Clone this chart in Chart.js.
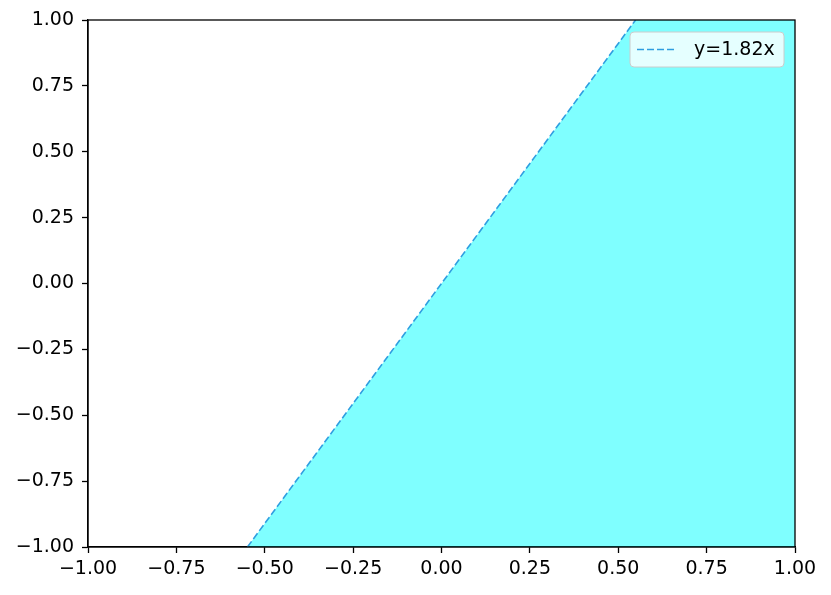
<!DOCTYPE html>
<html>
<head>
<meta charset="utf-8">
<script src="https://cdn.jsdelivr.net/npm/chart.js@4/dist/chart.umd.min.js"></script>
<style>
  html, body { margin: 0; padding: 0; background: #fff; }
  #wrap { width: 831px; height: 595px; }
</style>
</head>
<body>
<div id="wrap"><canvas id="grafico" width="831" height="595"></canvas></div>
<script>
// line y = 1.82x, endpoints where it meets the frame
const lineX = [-0.549, 0.549];
const lineY = [-1, 1];
// shaded region right of the line (filled down to the bottom)
const fillX = [-0.549, 0.549, 1];
const fillY = [-1, 1, 1];
const xTicks = [-1, -0.75, -0.5, -0.25, 0, 0.25, 0.5, 0.75, 1];
const yTicks = [-1, -0.75, -0.5, -0.25, 0, 0.25, 0.5, 0.75, 1];
const lineLabel = "y=1.82x";

const FONT = "'DejaVu Sans', sans-serif";
const FSIZE = 19;
const fmt = v => (v < 0 ? "\u2212" : "") + Math.abs(v).toFixed(2);

const toPts = (xs, ys) => xs.map((x, i) => ({ x: x, y: ys[i] }));

// frame + legend drawn by hand, matplotlib style
const marco = {
    id: "marco",
    afterDraw(chart) {
        const ctx = chart.ctx;
        const a = chart.chartArea;
        ctx.save();
        ctx.strokeStyle = "#000";
        ctx.lineWidth = 1.3;
        ctx.strokeRect(a.left, a.top, a.right - a.left, a.bottom - a.top);

        // legend box
        const bx = 630, by = 32, bw = 154, bh = 35, r = 4;
        ctx.beginPath();
        ctx.moveTo(bx + r, by);
        ctx.arcTo(bx + bw, by, bx + bw, by + bh, r);
        ctx.arcTo(bx + bw, by + bh, bx, by + bh, r);
        ctx.arcTo(bx, by + bh, bx, by, r);
        ctx.arcTo(bx, by, bx + bw, by, r);
        ctx.closePath();
        ctx.fillStyle = "rgba(255,255,255,0.8)";
        ctx.fill();
        ctx.strokeStyle = "#cccccc";
        ctx.lineWidth = 1;
        ctx.stroke();

        const ds = chart.data.datasets[0];
        ctx.beginPath();
        ctx.setLineDash(ds.borderDash);
        ctx.strokeStyle = ds.borderColor;
        ctx.lineWidth = ds.borderWidth;
        ctx.moveTo(637, by + bh / 2);
        ctx.lineTo(677, by + bh / 2);
        ctx.stroke();
        ctx.setLineDash([]);

        ctx.fillStyle = "#000";
        ctx.font = FSIZE + "px " + FONT;
        ctx.textBaseline = "middle";
        ctx.fillText(ds.label, 694, by + bh / 2 + 1);
        ctx.restore();
    }
};

const ctx = document.getElementById("grafico").getContext("2d");
new Chart(ctx, {
    type: "scatter",
    data: {
        datasets: [
            {
                label: lineLabel,
                data: toPts(lineX, lineY),
                showLine: true,
                borderColor: "#2f9ee0",
                borderWidth: 1.6,
                borderDash: [7, 3],
                pointRadius: 0,
                fill: false
            },
            {
                label: "region",
                data: toPts(fillX, fillY),
                showLine: true,
                borderWidth: 0,
                borderColor: "rgba(0,0,0,0)",
                backgroundColor: "rgba(0,255,255,0.5)",
                pointRadius: 0,
                fill: "start"
            }
        ]
    },
    options: {
        responsive: false,
        animation: false,
        layout: { padding: { top: 20, right: 36, left: 0, bottom: 0 } },
        plugins: {
            legend: { display: false },
            tooltip: { enabled: false }
        },
        scales: {
            x: {
                type: "linear",
                min: -1, max: 1,
                afterBuildTicks: s => { s.ticks = xTicks.map(v => ({ value: v })); },
                afterFit: s => { s.height = 48; },
                grid: { drawOnChartArea: false, drawTicks: true, tickLength: 6, tickColor: "#000", tickWidth: 1.3 },
                border: { display: true, color: "#000", width: 1.3 },
                ticks: {
                    color: "#000",
                    font: { family: FONT, size: FSIZE },
                    padding: 5,
                    maxRotation: 0,
                    autoSkip: false,
                    callback: v => fmt(v)
                }
            },
            y: {
                type: "linear",
                min: -1, max: 1,
                afterBuildTicks: s => { s.ticks = yTicks.map(v => ({ value: v })); },
                afterFit: s => { s.width = 88; },
                grid: { drawOnChartArea: false, drawTicks: true, tickLength: 6, tickColor: "#000", tickWidth: 1.3 },
                border: { display: true, color: "#000", width: 1.3 },
                ticks: {
                    color: "#000",
                    font: { family: FONT, size: FSIZE },
                    padding: 8,
                    autoSkip: false,
                    callback: v => fmt(v)
                }
            }
        }
    },
    plugins: [marco]
});
</script>
</body>
</html>
